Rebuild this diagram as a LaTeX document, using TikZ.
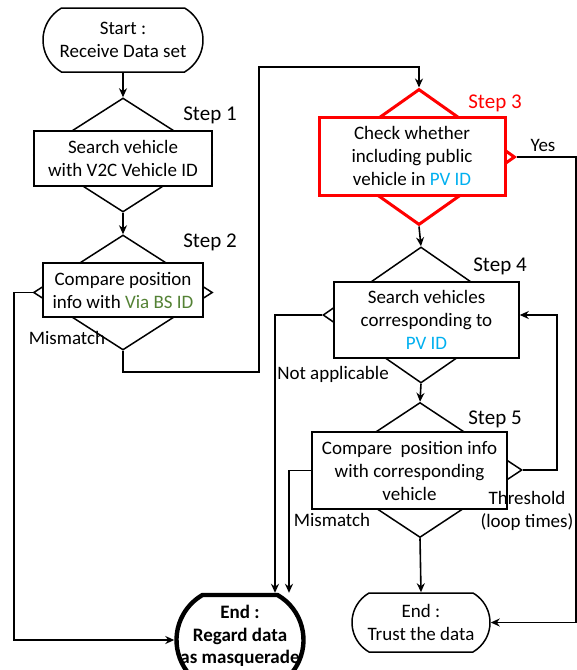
\documentclass[tikz,border=0pt]{standalone}
\usepackage{fontspec}
\setmainfont{Carlito}
\usetikzlibrary{shapes.geometric,shapes.misc,arrows.meta}

\definecolor{pvblue}{HTML}{00B0F0}
\definecolor{bsgreen}{HTML}{548235}

\tikzset{
  box/.style={draw,fill=white,line width=0.75pt,align=center,inner sep=0pt},
  dia/.style={diamond,draw,line width=0.75pt,inner sep=0pt},
  term/.style={rounded rectangle,rounded rectangle arc length=120,draw,
    line width=0.75pt,align=center,inner sep=0pt},
  flow/.style={line width=0.8pt,-{Stealth[length=4.5pt,width=4pt]}},
  steplbl/.style={font=\fontsize{10.5}{12}\selectfont},
}

\begin{document}
\begin{tikzpicture}[x=0.5pt,y=-0.5pt,font=\fontsize{9.5}{11.5}\selectfont]

  \useasboundingbox (0,0) rectangle (577,670);

  \node[term,minimum width=80pt,minimum height=32pt] (start) at (123,40)
    {Start :\\Receive Data set};

  \node[dia,minimum width=89pt,minimum height=57pt] (d1) at (123,155) {};
  \node[box,minimum width=89pt,minimum height=27.5pt] (b1) at (123,158.5)
    {Search vehicle\\with V2C Vehicle ID};
  \node[steplbl] (s1) at (210,115) {Step 1};

  \node[dia,minimum width=89.5pt,minimum height=57.5pt] (d2) at (123,292.5) {};
  \node[box,minimum width=80pt,minimum height=27pt] (b2) at (123,290)
    {Compare position\\info with \textcolor{bsgreen}{Via BS ID}};
  \node[steplbl] (s2) at (210,242) {Step 2};

  \node[dia,red,line width=1.5pt,minimum width=96pt,minimum height=68pt] (d3) at (419,157) {};
  \node[box,draw=red,line width=1.5pt,minimum width=93pt,minimum height=39pt] (b3) at (412,156)
    {Check whether\\including public\\vehicle in \textcolor{pvblue}{PV ID}};
  \node[steplbl,red] (s3) at (495,103) {Step 3};

  \node[dia,minimum width=98pt,minimum height=68pt] (d4) at (421,315) {};
  \node[box,minimum width=92.5pt,minimum height=38pt] (b4) at (426.5,320)
    {Search vehicles\\corresponding to\\\textcolor{pvblue}{PV ID}};
  \node[steplbl] (s4) at (500,266) {Step 4};

  \node[dia,minimum width=102pt,minimum height=67.5pt] (d5) at (420,470) {};
  \node[box,minimum width=97.5pt,minimum height=38.5pt] (b5) at (409.5,470.5)
    {Compare~ position info\\with corresponding\\vehicle};
  \node[steplbl] (s5) at (495,419) {Step 5};

  \node[term,minimum width=69pt,minimum height=29.5pt] (endT) at (421,622.5)
    {End :\\Trust the data};
  \node[term,line width=2.2pt,minimum width=63.5pt,minimum height=45pt] (endM) at (240,640) {};
  \node[font=\bfseries\fontsize{9.5}{11.25}\selectfont,align=center] (mtxt) at (240,636)
    {End :\\Regard data\\as masquerade};

  \coordinate (lft) at (14,0);
  \coordinate (jog) at (259,372);
  \coordinate (top) at (259,67);
  \coordinate (rgt) at (576,622.5);
  \coordinate (na) at (275,0);
  \coordinate (mm) at (289,0);
  \coordinate (lp) at (557,400);

  \draw[flow] (start) -- (d1.north);
  \draw[flow] (d1.south) -- (d2.north);
  \draw[flow] (d2.west) -- (d2.west -| lft) |- (endM.west);
  \draw[flow] (d2.south) |- (jog) -- (top) -| (d3.north);
  \draw[flow] (d3.east) -| (rgt) -- (endT.east);
  \draw[flow] (d3.south) -- (d4.north);
  \draw[flow] (d4.west) -| (na |- endM.north);
  \draw[flow] (d4.south) -- (d5.north);
  \draw[flow] (b5.west) -| (mm |- endM.north);
  \draw[flow] (d5.east) -| (lp) |- (d4.east);
  \draw[flow] (d5.south) -- (endT.north);

  \node (mis1) at (67,338) {Mismatch};
  \node (yes) at (543,145) {Yes};
  \node (notap) at (333,374) {Not applicable};
  \node (mis2) at (332,520) {Mismatch};
  \node[align=center] (thr) at (527,511) {Threshold\\(loop times)};

\end{tikzpicture}
\end{document}
